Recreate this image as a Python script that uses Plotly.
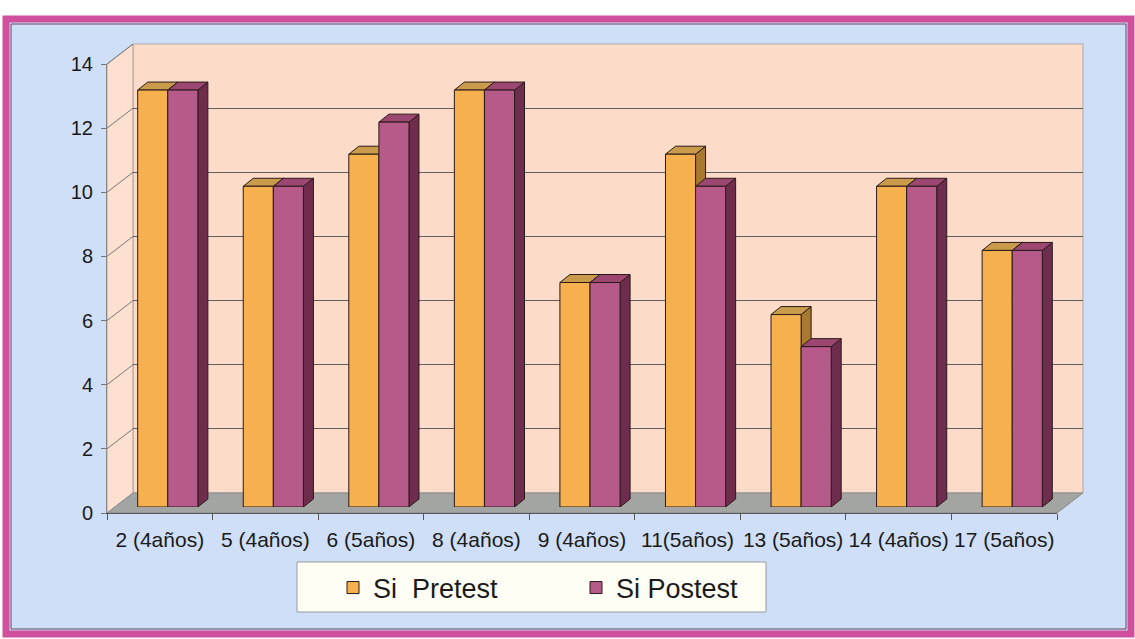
import plotly.graph_objects as go

categories = ["2 (4años)", "5 (4años)", "6 (5años)", "8 (4años)", "9 (4años)",
              "11(5años)", "13 (5años)", "14 (4años)", "17 (5años)"]
pretest = [13, 10, 11, 13, 7, 11, 6, 10, 8]
postest = [13, 10, 12, 13, 7, 10, 5, 10, 8]
y_ticks = [0, 2, 4, 6, 8, 10, 12, 14]
series_names = ["Si\u00a0 Pretest", "Si Postest"]

W, H = 1135, 639
FONT = "Liberation Sans, Arial, sans-serif"

def px(x):
    return x / W

def py(y):
    return 1 - y / H

S = 3
front = dict(x0=107, x1=1057, y0=516 - S, y1=67 - S)
back = dict(x0=133, x1=1083, y0=496 - S, y1=47 - S)
barax = dict(x0=115, x1=1065, y0=510 - S, y1=61 - S)
YMAX = 14
n = len(categories)

col_pre = "#f6b14e"
col_post = "#b55a89"
top_pre = "#c99b4a"
top_post = "#9b4772"
side_pre = "#a87a30"
side_post = "#6e2d4c"
edge = "#2a1a1a"

bargap = 0.43
bw = (1 - bargap) / 2
cat_px = (barax["x1"] - barax["x0"]) / n
unit_px = (barax["y0"] - barax["y1"]) / YMAX
dx = 10 / cat_px
dy = 8 / unit_px

fig = go.Figure()
# empty traces so that the front axes and the back-wall grid subplot get drawn
fig.add_trace(go.Scatter(x=[], y=[], xaxis="x", yaxis="y", showlegend=False, hoverinfo="skip"))
fig.add_trace(go.Scatter(x=[], y=[], xaxis="x2", yaxis="y2", showlegend=False, hoverinfo="skip"))
fig.add_trace(go.Bar(x=list(range(n)), y=pretest, name=series_names[0],
                     marker=dict(color=col_pre, line=dict(color=edge, width=1)),
                     xaxis="x3", yaxis="y3"))
fig.add_trace(go.Bar(x=list(range(n)), y=postest, name=series_names[1],
                     marker=dict(color=col_post, line=dict(color=edge, width=1)),
                     xaxis="x3", yaxis="y3"))

shapes = []
def prect(x0, y0, x1, y1, **kw):
    return dict(type="rect", xref="paper", yref="paper", x0=px(x0), x1=px(x1),
                y0=py(y0), y1=py(y1), layer="below", **kw)

def ppath(pts, **kw):
    d = "M" + " L".join(f"{px(a):.5f},{py(b):.5f}" for a, b in pts) + " Z"
    return dict(type="path", xref="paper", yref="paper", path=d, layer="below", **kw)

# frame
shapes.append(prect(6, 19, 1131, 634, fillcolor="#cfdff8",
                    line=dict(color="#d0509d", width=7)))
shapes.append(prect(11, 24, 1126, 629, line=dict(color="#6b4560", width=1)))
# back wall
shapes.append(prect(back["x0"], back["y0"], back["x1"], back["y1"], fillcolor="#fcdcc9",
                    line=dict(color="#a9a9a9", width=1)))
# left wall
shapes.append(ppath([(front["x0"], front["y0"]), (front["x0"], front["y1"]),
                     (back["x0"], back["y1"]), (back["x0"], back["y0"])],
                    fillcolor="#fde0cf", line=dict(color="#b0a0a0", width=1)))
# floor
shapes.append(ppath([(front["x0"], front["y0"]), (front["x1"], front["y0"]),
                     (back["x1"], back["y0"]), (back["x0"], back["y0"])],
                    fillcolor="#a2a5a2", line=dict(color="#8a8a8a", width=1)))
# side-wall grid lines
fu = (front["y0"] - front["y1"]) / YMAX
bu = (back["y0"] - back["y1"]) / YMAX
for v in y_ticks[1:]:
    shapes.append(dict(type="line", xref="paper", yref="paper", layer="below",
                       x0=px(front["x0"]), y0=py(front["y0"] - v * fu),
                       x1=px(back["x0"]), y1=py(back["y0"] - v * bu),
                       line=dict(color="#777777", width=1)))
# legend box
shapes.append(prect(297, 562, 766, 612, fillcolor="#fffef4",
                    line=dict(color="#9a9a9a", width=1)))

# 3D faces of bars
for s, (vals, tcol, scol) in enumerate([(pretest, top_pre, side_pre),
                                         (postest, top_post, side_post)]):
    for i, v in enumerate(vals):
        x0 = i - bw + s * bw
        x1 = x0 + bw
        top = f"M{x0},{v} L{x1},{v} L{x1 + dx},{v + dy} L{x0 + dx},{v + dy} Z"
        side = f"M{x1},0 L{x1},{v} L{x1 + dx},{v + dy} L{x1 + dx},{dy} Z"
        for path, c in ((side, scol), (top, tcol)):
            shapes.append(dict(type="path", xref="x3", yref="y3", path=path,
                               fillcolor=c, line=dict(color=edge, width=1), layer="below"))

fig.update_layout(
    width=W, height=H, autosize=False,
    margin=dict(l=0, r=0, t=0, b=0, pad=0, autoexpand=False),
    paper_bgcolor="white",
    plot_bgcolor="rgba(0,0,0,0)",
    barmode="group", bargap=bargap, bargroupgap=0,
    font=dict(family=FONT, color="#1a1a1a"),
    shapes=shapes,
    showlegend=True,
    legend=dict(orientation="h", x=px(333), y=py(588), xanchor="left", yanchor="middle",
                bgcolor="rgba(0,0,0,0)", font=dict(size=27, family=FONT, color="#1a1a1a"),
                entrywidth=198, entrywidthmode="pixels", traceorder="normal"),
    xaxis=dict(domain=[px(front["x0"]), px(front["x1"])], anchor="y", range=[-0.5, n - 0.5],
               tickmode="array", tickvals=list(range(n)), ticktext=categories,
               ticks="", showgrid=False, zeroline=False, showline=True, automargin=False,
               linecolor="#555555", linewidth=1, tickangle=0,
               tickfont=dict(size=21, family=FONT, color="#1a1a1a"), ticklabelstandoff=8,
               minor=dict(tickmode="array", tickvals=[k - 0.5 for k in range(n + 1)],
                          ticks="outside", ticklen=6, tickcolor="#555555", showgrid=False)),
    yaxis=dict(domain=[py(front["y0"]), py(front["y1"])], anchor="x", range=[0, YMAX],
               tickmode="array", tickvals=y_ticks, ticks="outside", ticklen=5,
               tickcolor="#777777", showgrid=False, zeroline=False, showline=True,
               linecolor="#888888", linewidth=1, automargin=False,
               tickfont=dict(size=20, family=FONT, color="#1a1a1a"), ticklabelstandoff=4),
    xaxis2=dict(domain=[px(back["x0"]), px(back["x1"])], anchor="y2", range=[-0.5, n - 0.5],
                visible=False, showgrid=False, automargin=False),
    yaxis2=dict(domain=[py(back["y0"]), py(back["y1"])], anchor="x2", range=[0, YMAX],
                tickmode="array", tickvals=y_ticks, showgrid=True, gridcolor="#5e5e5e",
                gridwidth=1, showticklabels=False, ticks="", zeroline=False, showline=False,
                automargin=False),
    xaxis3=dict(domain=[px(barax["x0"]), px(barax["x1"])], anchor="y3", range=[-0.5, n - 0.5],
                visible=False, automargin=False),
    yaxis3=dict(domain=[py(barax["y0"]), py(barax["y1"])], anchor="x3", range=[0, YMAX],
                visible=False, automargin=False),
)

fig.write_html("out.html", config={"displayModeBar": False, "responsive": False},
               post_script="document.body.style.margin='0';")
